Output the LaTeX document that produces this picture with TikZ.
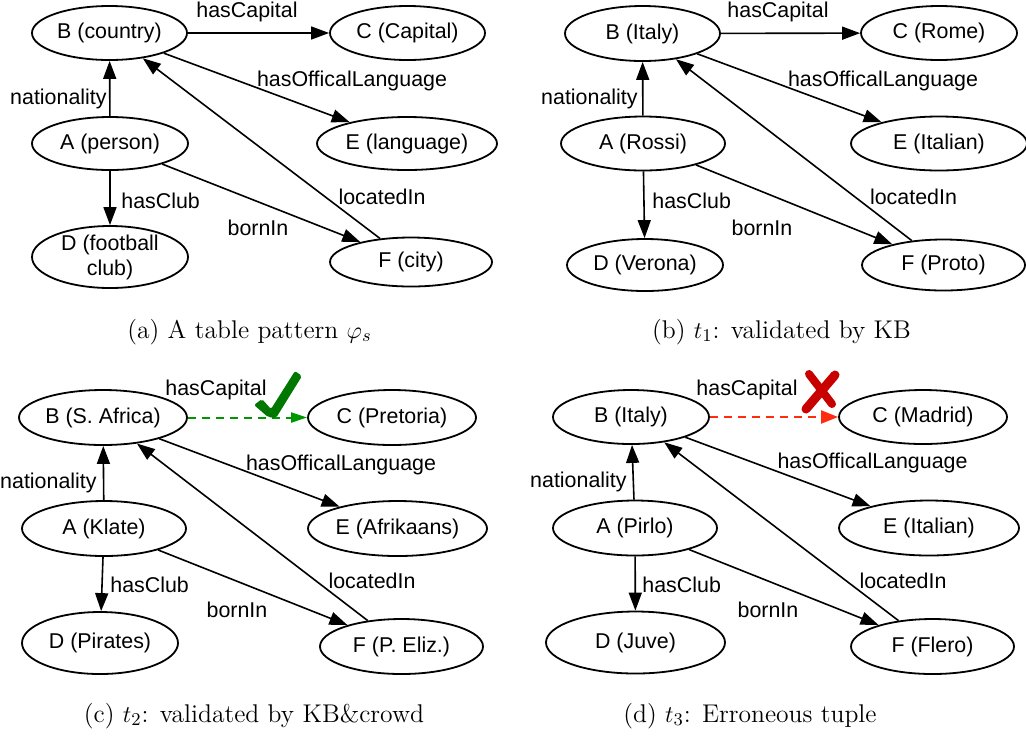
\documentclass[tikz,border=0pt]{standalone}
\usepackage{fontspec}
\usetikzlibrary{shapes.geometric,arrows.meta}
\newfontfamily\helv{Liberation Sans}
\newcommand\nodefont{\helv\fontsize{10.7}{12.5}\selectfont}
\newcommand\capfont{\fontsize{12.8}{15}\selectfont}
\definecolor{okgreen}{RGB}{0,150,0}
\definecolor{checkgreen}{RGB}{0,120,0}
\definecolor{badred}{RGB}{255,45,15}
\definecolor{crossred}{RGB}{200,0,0}
\tikzset{
  ent/.style 2 args={draw, ellipse, line width=0.9pt, inner sep=0pt,
    font=\nodefont, minimum width=#1pt, minimum height=#2pt},
  rel/.style={line width=0.8pt, -{Triangle[length=9pt,width=6.5pt]}},
  lbl/.style={font=\nodefont, inner sep=0pt, anchor=base},
  lblr/.style={lbl, anchor=base east},
  lbll/.style={lbl, anchor=base west},
  captxt/.style={inner sep=0pt, anchor=base, font=\capfont},
  okrel/.style={okgreen, line width=1pt, dash pattern=on 4pt off 3pt,
    -{Triangle[length=8pt,width=5pt]}},
  badrel/.style={badred, line width=1pt, dash pattern=on 4pt off 3pt,
    -{Triangle[length=8.5pt,width=6.5pt]}}
}
\begin{document}
\begin{tikzpicture}[x=0.5pt,y=-0.5pt]
\useasboundingbox (0,0) rectangle (1026,735);

% ---------- (a) table pattern ----------
\node[ent={77.5}{27}] (aB) at (109.5,33) {B (country)};
\node[ent={77.5}{27}] (aC) at (407.5,33) {C (Capital)};
\node[ent={90}{26.5}] (aE) at (407,143.5) {E (language)};
\node[ent={78}{26.5}] (aA) at (110,143.5) {A (person)};
\node[ent={78}{31}, label={[font=\nodefont,align=center,inner sep=0pt]center:D (football\\club)}] (aD) at (110,257) {};
\node[ent={81}{24.5}] (aF) at (411,262) {F (city)};
\draw[rel] (aB) -- (aC);
\draw[rel] (aA) -- (aB);
\draw[rel] (aB) -- (aE);
\draw[rel] (aF) -- (aB);
\draw[rel] (aA) -- (aD);
\draw[rel] (aA) -- (aF);
\node[lbl] (aL1) at (247,17.5) {hasCapital};
\node[lblr] (aL2) at (107,104) {nationality};
\node[lbl] (aL3) at (352,86) {hasOfficalLanguage};
\node[lbl] (aL4) at (382,204) {locatedIn};
\node[lbll] (aL5) at (121,208.3) {hasClub};
\node[lbl] (aL6) at (258,235.3) {bornIn};
\node[captxt] (acap) at (249.5,338) {(a) A table pattern $\varphi_s$};

% ---------- (b) t1 ----------
\node[ent={77.5}{27.5}] (bB) at (642.5,33.5) {B (Italy)};
\node[ent={78}{27}] (bC) at (939,33) {C (Rome)};
\node[ent={88}{27}] (bE) at (939,143.5) {E (Italian)};
\node[ent={82}{27}] (bA) at (643,143.5) {A (Rossi)};
\node[ent={78}{26}] (bD) at (645,265) {D (Verona)};
\node[ent={81.5}{25.5}] (bF) at (943.5,265) {F (Proto)};
\draw[rel] (bB) -- (bC);
\draw[rel] (bA) -- (bB);
\draw[rel] (bB) -- (bE);
\draw[rel] (bF) -- (bB);
\draw[rel] (bA) -- (bD);
\draw[rel] (bA) -- (bF);
\node[lbl] (bL1) at (778,17.5) {hasCapital};
\node[lblr] (bL2) at (638,104) {nationality};
\node[lbl] (bL3) at (883,86) {hasOfficalLanguage};
\node[lbl] (bL4) at (913.5,204) {locatedIn};
\node[lbll] (bL5) at (652,208.3) {hasClub};
\node[lbl] (bL6) at (762,235.3) {bornIn};
\node[captxt] (bcap) at (781.5,338) {(b) $t_1$: validated by KB};

% ---------- (c) t2 ----------
\node[ent={84}{27.5}] (cB) at (103,417.5) {B (S. Africa)};
\node[ent={84}{27.5}] (cC) at (392,417.5) {C (Pretoria)};
\node[ent={89.5}{27.5}] (cE) at (397.5,528.5) {E (Afrikaans)};
\node[ent={82}{27.5}] (cA) at (104,528.5) {A (Klate)};
\node[ent={78}{31}] (cD) at (100,643) {D (Pirates)};
\node[ent={81.5}{27.5}] (cF) at (401.5,646.5) {F (P. Eliz.)};
\draw[okrel] (cB) -- (cC);
\draw[rel] (cA) -- (cB);
\draw[rel] (cB) -- (cE);
\draw[rel] (cF) -- (cB);
\draw[rel] (cA) -- (cD);
\draw[rel] (cA) -- (cF);
\node[lbl] (cL1) at (216,395.5) {hasCapital};
\node[lblr] (cL2) at (97,488) {nationality};
\node[lbl] (cL3) at (341,470) {hasOfficalLanguage};
\node[lbl] (cL4) at (372,588) {locatedIn};
\node[lbll] (cL5) at (110,592) {hasClub};
\node[lbl] (cL6) at (237,617) {bornIn};
% check mark
\fill[checkgreen, rounded corners=1pt]
  (254,405) -- (262,399) -- (271,409) -- (295,371) -- (302,376)
  -- (276,418) -- (268,417) -- cycle;
\node[captxt] (ccap) at (254,722) {(c) $t_2$: validated by KB\&crowd};

% ---------- (d) t3 ----------
\node[ent={78}{27}] (dB) at (631,417) {B (Italy)};
\node[ent={84}{27}] (dC) at (923,417) {C (Madrid)};
\node[ent={90}{27.5}] (dE) at (929,528) {E (Italian)};
\node[ent={82}{27.5}] (dA) at (635,528) {A (Pirlo)};
\node[ent={89.5}{31}] (dD) at (635.5,642.5) {D (Juve)};
\node[ent={81.5}{27.5}] (dF) at (932.5,646.5) {F (Flero)};
\draw[badrel] (dB) -- (dC);
\draw[rel] (dA) -- (dB);
\draw[rel] (dB) -- (dE);
\draw[rel] (dF) -- (dB);
\draw[rel] (dA) -- (dD);
\draw[rel] (dA) -- (dF);
\node[lbl] (dL1) at (747,395.5) {hasCapital};
\node[lblr] (dL2) at (627,487) {nationality};
\node[lbl] (dL3) at (872.5,468) {hasOfficalLanguage};
\node[lbl] (dL4) at (903,588) {locatedIn};
\node[lbll] (dL5) at (642,592) {hasClub};
\node[lbl] (dL6) at (768,617) {bornIn};
% cross mark
\draw[crossred, line width=4pt, line cap=round] (809,374) -- (832,404);
\draw[crossred, line width=4.5pt, line cap=round] (806,409) -- (835,375);
\node[captxt] (dcap) at (750,722) {(d) $t_3$: Erroneous tuple};
\end{tikzpicture}
\end{document}
